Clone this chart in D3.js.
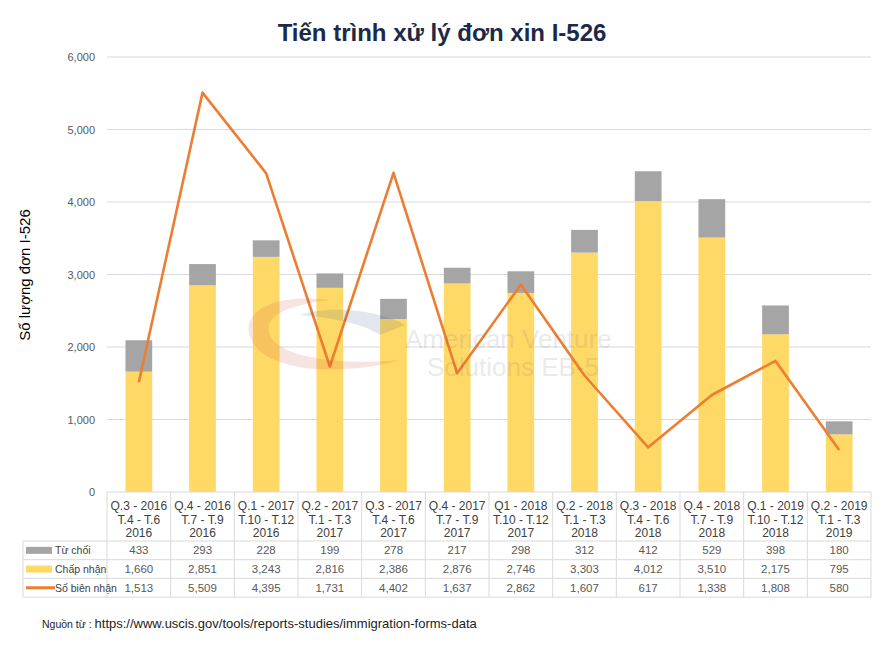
<!DOCTYPE html>
<html lang="vi">
<head>
<meta charset="UTF-8">
<title>Tiến trình xử lý đơn xin I-526</title>
<script src="https://d3js.org/d3.v7.min.js"></script>
<style>
  body { margin: 0; background: #fff; }
  svg { display: block; font-family: "Liberation Sans", Arial, sans-serif; }
</style>
</head>
<body>
<svg id="chart" width="883" height="648"></svg>
<script>
// quarters (3 header lines each)
var categories = [
  ["Q.3 - 2016", "T.4 - T.6", "2016"],
  ["Q.4 - 2016", "T.7 - T.9", "2016"],
  ["Q.1 - 2017", "T.10 - T.12", "2016"],
  ["Q.2 - 2017", "T.1 - T.3", "2017"],
  ["Q.3 - 2017", "T.4 - T.6", "2017"],
  ["Q.4 - 2017", "T.7 - T.9", "2017"],
  ["Q1 - 2018", "T.10 - T.12", "2017"],
  ["Q.2 - 2018", "T.1 - T.3", "2018"],
  ["Q.3 - 2018", "T.4 - T.6", "2018"],
  ["Q.4 - 2018", "T.7 - T.9", "2018"],
  ["Q.1 - 2019", "T.10 - T.12", "2018"],
  ["Q.2 - 2019", "T.1 - T.3", "2019"]
];
var denied   = [433, 293, 228, 199, 278, 217, 298, 312, 412, 529, 398, 180];
var approved = [1660, 2851, 3243, 2816, 2386, 2876, 2746, 3303, 4012, 3510, 2175, 795];
var receipts = [1513, 5509, 4395, 1731, 4402, 1637, 2862, 1607, 617, 1338, 1808, 580];
var yTicks = [0, 1000, 2000, 3000, 4000, 5000, 6000];

var svg = d3.select("#chart");
var plotL = 107, plotR = 871, plotT = 57, plotB = 492;
var grey = "#a5a5a5", gold = "#ffd966", orange = "#ed7d31", border = "#d9d9d9";

var x = d3.scaleBand().domain(d3.range(categories.length)).range([plotL, plotR]).padding(0);
var y = d3.scaleLinear().domain([0, 6000]).range([plotB, plotT]);
var fmt = d3.format(",");

// title
svg.append("text").attr("x", 442).attr("y", 41).attr("text-anchor", "middle")
  .attr("font-size", 24).attr("font-weight", "bold").attr("fill", "#1c2a48")
  .text("Tiến trình xử lý đơn xin I-526");

// gridlines
svg.append("g").selectAll("line").data(yTicks.slice(1)).enter().append("line")
  .attr("x1", plotL).attr("x2", plotR)
  .attr("y1", function(d) { return y(d); }).attr("y2", function(d) { return y(d); })
  .attr("stroke", border).attr("stroke-width", 1);

// y axis labels
var yAxis = d3.axisLeft(y).tickValues(yTicks).tickFormat(fmt).tickSize(0).tickPadding(12);
var ya = svg.append("g").attr("transform", "translate(" + plotL + ",0)").call(yAxis);
ya.select(".domain").remove();
ya.selectAll("text").attr("font-size", 11).attr("fill", "#595959")
  .attr("font-family", "'Liberation Sans', Arial, sans-serif");

svg.append("text").attr("transform", "translate(30,275) rotate(-90)")
  .attr("text-anchor", "middle").attr("font-size", 15).attr("fill", "#000")
  .text("Số lượng đơn I-526");

// bars
var bw = x.bandwidth() * 0.42;
var bars = svg.append("g");
bars.selectAll("rect.app").data(approved).enter().append("rect").attr("class", "app")
  .attr("x", function(d, i) { return x(i) + (x.bandwidth() - bw) / 2; })
  .attr("width", bw)
  .attr("y", function(d) { return y(d); })
  .attr("height", function(d) { return y(0) - y(d); })
  .attr("fill", gold);
bars.selectAll("rect.den").data(denied).enter().append("rect").attr("class", "den")
  .attr("x", function(d, i) { return x(i) + (x.bandwidth() - bw) / 2; })
  .attr("width", bw)
  .attr("y", function(d, i) { return y(approved[i] + d); })
  .attr("height", function(d) { return y(0) - y(d); })
  .attr("fill", grey);

// receipts line
var line = d3.line()
  .x(function(d, i) { return x(i) + x.bandwidth() / 2; })
  .y(function(d) { return y(d); });
svg.append("path").datum(receipts).attr("d", line)
  .attr("fill", "none").attr("stroke", orange).attr("stroke-width", 2.6)
  .attr("stroke-linejoin", "round");

// watermark, laid over the marks
var wm = svg.append("g").attr("opacity", 0.13);
wm.append("path").attr("d", "M330,300 C250,290 230,330 265,355 C295,375 360,372 400,360 C350,365 280,360 270,335 C262,315 290,305 330,300 Z")
  .attr("fill", "#c0392b");
wm.append("path").attr("d", "M300,315 C330,305 380,310 405,325 L380,335 C360,322 330,318 300,315 Z")
  .attr("fill", "#2c4f8a");
wm.append("text").attr("x", 405).attr("y", 348).attr("font-size", 26).attr("fill", "#666").text("American Venture");
wm.append("text").attr("x", 427).attr("y", 376).attr("font-size", 26).attr("fill", "#666").text("Solutions EB-5");

// data table
var tblLeft = 23, rowTop = 541, rowH = 18.7;
var rows = [
  { name: "Từ chối", values: denied, kind: "rect", color: grey },
  { name: "Chấp nhận", values: approved, kind: "rect", color: gold },
  { name: "Số biên nhận", values: receipts, kind: "line", color: orange }
];
var tbl = svg.append("g");
var tableBottom = rowTop + rows.length * rowH;

// horizontal lines
tbl.append("line").attr("x1", plotL).attr("x2", plotR).attr("y1", plotB).attr("y2", plotB)
  .attr("stroke", border);
d3.range(rows.length + 1).forEach(function(r) {
  tbl.append("line").attr("x1", tblLeft).attr("x2", plotR)
    .attr("y1", rowTop + r * rowH).attr("y2", rowTop + r * rowH).attr("stroke", border);
});
// vertical lines
d3.range(categories.length + 1).forEach(function(i) {
  var xx = i < categories.length ? x(i) : plotR;
  tbl.append("line").attr("x1", xx).attr("x2", xx).attr("y1", plotB).attr("y2", tableBottom)
    .attr("stroke", border);
});
tbl.append("line").attr("x1", tblLeft).attr("x2", tblLeft).attr("y1", rowTop).attr("y2", tableBottom)
  .attr("stroke", border);

// category headers
categories.forEach(function(c, i) {
  var t = tbl.append("text").attr("x", x(i) + x.bandwidth() / 2).attr("y", 510)
    .attr("text-anchor", "middle").attr("font-size", 12).attr("fill", "#404040");
  c.forEach(function(s, k) {
    t.append("tspan").attr("x", x(i) + x.bandwidth() / 2).attr("dy", k === 0 ? 0 : 13.5).text(s);
  });
});

// rows
rows.forEach(function(r, ri) {
  var cy = rowTop + ri * rowH + rowH / 2;
  if (r.kind === "rect") {
    tbl.append("rect").attr("x", 26).attr("y", cy - 3.5).attr("width", 26).attr("height", 7).attr("fill", r.color);
  } else {
    tbl.append("line").attr("x1", 26).attr("x2", 55).attr("y1", cy).attr("y2", cy)
      .attr("stroke", r.color).attr("stroke-width", 3);
  }
  tbl.append("text").attr("x", 55).attr("y", cy + 4).attr("font-size", 10.5).attr("fill", "#404040").text(r.name);
  tbl.selectAll(null).data(r.values).enter().append("text")
    .attr("x", function(d, i) { return x(i) + x.bandwidth() / 2; })
    .attr("y", cy + 4).attr("text-anchor", "middle")
    .attr("font-size", 11.5).attr("fill", "#595959")
    .text(function(d) { return fmt(d); });
});

// source
var src = svg.append("text").attr("x", 42).attr("y", 628).attr("fill", "#222");
src.append("tspan").attr("font-size", 10.5).text("Nguồn từ : ");
src.append("tspan").attr("font-size", 13).text("https://www.uscis.gov/tools/reports-studies/immigration-forms-data");
</script>
</body>
</html>
